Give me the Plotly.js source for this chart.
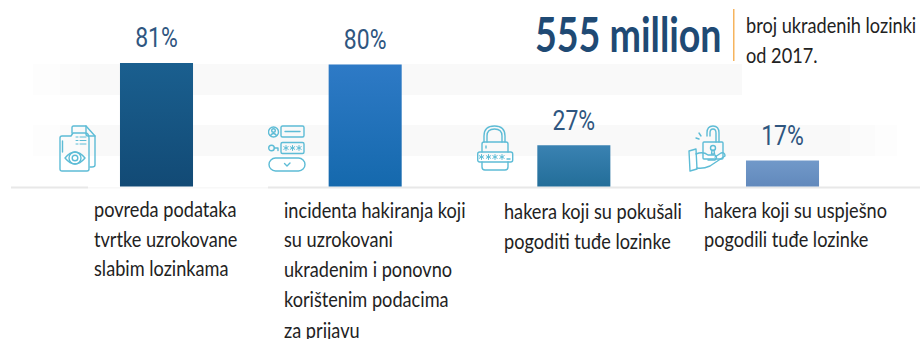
<!DOCTYPE html>
<html><head><meta charset="utf-8">
<script src="https://cdn.plot.ly/plotly-3.0.1.min.js"></script>
<style>html,body{margin:0;padding:0;background:#fff;overflow:hidden}</style>
</head><body><div id="chart" style="width:920px;height:339px"></div>
<script>
var categories = ["povreda", "incidenti", "pokusali", "uspjesno"];
var values = [81, 80, 27, 17];
var valueLabels = ["81%", "80%", "27%", "17%"];
var barColorsTop = ["#1a5f8f", "#2e7ac6", "#3a82b2", "#7199c9"];
var barColorsBottom = ["#124a75", "#1569ad", "#236e99", "#6289bc"];
var captionLines = [
  ["povreda podataka", "tvrtke uzrokovane", "slabim lozinkama"],
  ["incidenta hakiranja koji", "su uzrokovani", "ukradenim i ponovno", "korištenim podacima", "za prijavu"],
  ["hakera koji su pokušali", "pogoditi tuđe lozinke"],
  ["hakera koji su uspješno", "pogodili tuđe lozinke"]
];
var captionLeft = [93, 283, 503, 703];
var captionLineY = [
  [208, 238, 267],
  [209, 239, 268, 298, 329],
  [210, 240],
  [209, 239]
];
var headline = "555 million";
var noteLines = ["broj ukradenih lozinki", "od 2017."];
var noteLineY = [24, 54];

var W = 920, H = 339;
var px = function (x) { return x / W; };
var py = function (y) { return 1 - y / H; };

var ic = '#5dbcd6';
function svg(body, w, h) {
  return 'data:image/svg+xml;utf8,' + encodeURIComponent(
    '<svg xmlns="http://www.w3.org/2000/svg" width="' + w + '" height="' + h + '" viewBox="0 0 ' + w + ' ' + h + '" fill="none" stroke="' + ic + '" stroke-width="1.4" stroke-linejoin="round" stroke-linecap="round">' + body + '</svg>');
}
function star(x, y) {
  return '<path stroke-width="1" d="M' + x + ' ' + (y - 2.5) + 'V' + (y + 2.5) + 'M' + (x - 2.2) + ' ' + (y - 1.3) + 'L' + (x + 2.2) + ' ' + (y + 1.3) + 'M' + (x + 2.2) + ' ' + (y - 1.3) + 'L' + (x - 2.2) + ' ' + (y + 1.3) + '"/>';
}
var iconDoc = svg('<path d="M13 8V2.500Q13 1 14.500 1H27L36 11V40Q36 42 33 42H31"/><path d="M27 1V9Q27 11 29 11H36"/><path d="M1 13Q1 11 3 11H12L14 8H26Q30 8 30 13V44Q30 46 28 46H3Q1 46 1 44Z"/><path d="M3.500 16V27"/><path d="M17 12H19M21 12H27M17 15.500H19M21 15.500H27M17 19H19M21 19H27" stroke-width="1"/><path d="M6 33Q16 21 26 33Q16 45 6 33Z"/><circle cx="16" cy="33" r="6"/><circle cx="16" cy="33" r="2.800"/>', 37, 47);
var iconLogin = svg('<circle cx="5.500" cy="7" r="5"/><circle cx="5.500" cy="5.500" r="1.800"/><path d="M2.500 10.500Q5.500 6.500 8.500 10.500"/><rect x="13" y="1" width="23" height="11" rx="1.500"/><path d="M17 6.500H32"/><circle cx="3.500" cy="23" r="2.800"/><path d="M6.500 23H10V25.500M10 23H9"/><rect x="13" y="17.500" width="23" height="11" rx="1.500"/>' + star(18, 23) + star(24.5, 23) + star(31, 23) + '<rect x="1" y="33" width="36" height="13" rx="6.500"/><path d="M16.500 38.500L19 41L22 38"/>', 38, 47);
var iconLock = svg('<path d="M7 17V11Q7 1 17.500 1Q28 1 28 11V17"/><path d="M10 17V11Q10 4 17.500 4Q25 4 25 11V17"/><path d="M5 27V19Q5 17 7 17H29Q31 17 31 19V27"/><rect x="0.700" y="27" width="35" height="10" rx="2"/><path d="M5 37V42Q5 45 8 45H28Q31 45 31 42V37"/>' + star(4.5, 32) + star(11.5, 32) + star(18, 32) + star(25, 32) + '<path d="M30 34H33"/><path d="M9 21V23"/>', 37, 46);
var iconHand = svg('<path d="M19 11V8Q19 1 25 1Q31 1 31 8V17"/><path d="M22 11V8Q22 4 25 4Q28 4 28 8V17"/><rect x="15" y="17" width="20" height="17" rx="1"/><circle cx="25" cy="23" r="2.500"/><path d="M24 25L23.500 29H26.500L26 25"/><path d="M11 8L13 11M8 13L11 14"/><path d="M1 26L8 24L9 44L2 46Z"/><path d="M8 29Q15 26 20 30L27 30Q30 32 27 35L20 35"/><path d="M9 43Q15 44 22 41L37 31Q37 27 33 28L27 32"/>', 38, 47);

var images = [
  [iconDoc, 59, 125, 37, 47],
  [iconLogin, 268, 125, 38, 47],
  [iconLock, 477, 125, 37, 46],
  [iconHand, 688, 125, 38, 47]
].map(function (d) {
  return { source: d[0], xref: 'paper', yref: 'paper', x: px(d[1]), y: py(d[2]), sizex: d[3] / W, sizey: d[4] / H,
           sizing: 'stretch', xanchor: 'left', yanchor: 'top', layer: 'above' };
});

var band = function (x0, x1, y0, y1, c) {
  return { type: 'rect', xref: 'paper', yref: 'paper', x0: px(x0), x1: px(x1), y0: py(y0), y1: py(y1),
           fillcolor: c, line: { width: 0 }, layer: 'below' };
};
var shapes = [
  band(33, 60, 64, 95, '#fdfdfd'), band(60, 80, 64, 95, '#fbfbfb'), band(80, 742, 64, 95, '#f9f9f9'),
  band(33, 60, 125, 156, '#fdfdfd'), band(60, 80, 125, 156, '#fbfbfb'), band(80, 850, 125, 156, '#f9f9f9'),
  band(850, 875, 125, 156, '#fbfbfb'), band(875, 897, 125, 156, '#fdfdfd'),
  band(11, 88, 186.500, 188.500, '#e8e8e8'),
  band(88, 268, 187, 188.500, '#f8f8f8'),
  band(268, 920, 186.500, 188.500, '#e8e8e8'),
  band(733, 734.500, 9, 61, '#f6b45e')
];

var annotations = [], squish = [];
function ann(t, x, y, size, color, font, scale) {
  annotations.push({ text: t, xref: 'paper', yref: 'paper', x: px(x), y: py(y), xanchor: 'left', yanchor: 'middle',
    showarrow: false, align: 'left', borderpad: 0, font: { size: size, color: color, family: font } });
  squish.push(scale);
}
var CAP = 0.865;
captionLines.forEach(function (lines, i) {
  lines.forEach(function (t, j) { ann(t, captionLeft[i], captionLineY[i][j], 21, '#222222', 'Lato', CAP); });
});
ann('<b>' + headline + '</b>', 534, 34, 47, '#1f4a74', 'Lato', 0.8);
noteLines.forEach(function (t, j) { ann(t, 745, noteLineY[j], 21, '#222222', 'Lato', CAP); });

var data = [{
  type: 'bar',
  x: [0, 1, 2, 3],
  y: values,
  width: 0.35,
  customdata: categories,
  marker: { color: barColorsTop, line: { width: 0 } },
  hoverinfo: 'skip'
}, {
  type: 'scatter',
  mode: 'text',
  x: [0, 1, 2, 3],
  y: values,
  text: valueLabels,
  textposition: 'top center',
  textfont: { size: 28, color: '#2f5680', family: 'Roboto, Open Sans' },
  hoverinfo: 'skip',
  cliponaxis: false
}];

var layout = {
  width: W, height: H,
  margin: { l: 0, r: 0, t: 0, b: 0, pad: 0 },
  paper_bgcolor: '#fff', plot_bgcolor: 'rgba(0,0,0,0)',
  showlegend: false,
  xaxis: { range: [-156.5 / 208.67, (W - 156.5) / 208.67], visible: false, fixedrange: true },
  yaxis: { range: [-100, 122.3], visible: false, fixedrange: true },
  shapes: shapes, images: images, annotations: annotations
};

function narrow(el, anchorX, s, dy) {
  var prev = el.getAttribute('transform') || '';
  el.setAttribute('transform', prev + ' translate(' + anchorX * (1 - s) + ',' + (dy || 0) + ') scale(' + s + ',1)');
}

Plotly.newPlot('chart', data, layout, { displayModeBar: false, staticPlot: true }).then(function (gd) {
  var svgEl = gd.querySelector('.main-svg');
  var NS = 'http://www.w3.org/2000/svg';
  var defs = svgEl.querySelector('defs') || svgEl.insertBefore(document.createElementNS(NS, 'defs'), svgEl.firstChild);
  gd.querySelectorAll('.bars .point path').forEach(function (p, i) {
    var g = document.createElementNS(NS, 'linearGradient');
    g.setAttribute('id', 'barGrad' + i);
    g.setAttribute('x1', '0'); g.setAttribute('y1', '0'); g.setAttribute('x2', '0'); g.setAttribute('y2', '1');
    [[0, barColorsTop[i]], [1, barColorsBottom[i]]].forEach(function (s) {
      var st = document.createElementNS(NS, 'stop');
      st.setAttribute('offset', s[0]); st.setAttribute('stop-color', s[1]);
      g.appendChild(st);
    });
    defs.appendChild(g);
    p.style.fill = 'url(#barGrad' + i + ')';
  });
  gd.querySelectorAll('.annotation-text').forEach(function (t, i) {
    narrow(t, t.getBBox().x, squish[i]);
  });
  gd.querySelectorAll('.textpoint text').forEach(function (t) {
    var b = t.getBBox();
    narrow(t, b.x + b.width / 2, 0.82, -8.5);
  });
});
</script></body></html>
